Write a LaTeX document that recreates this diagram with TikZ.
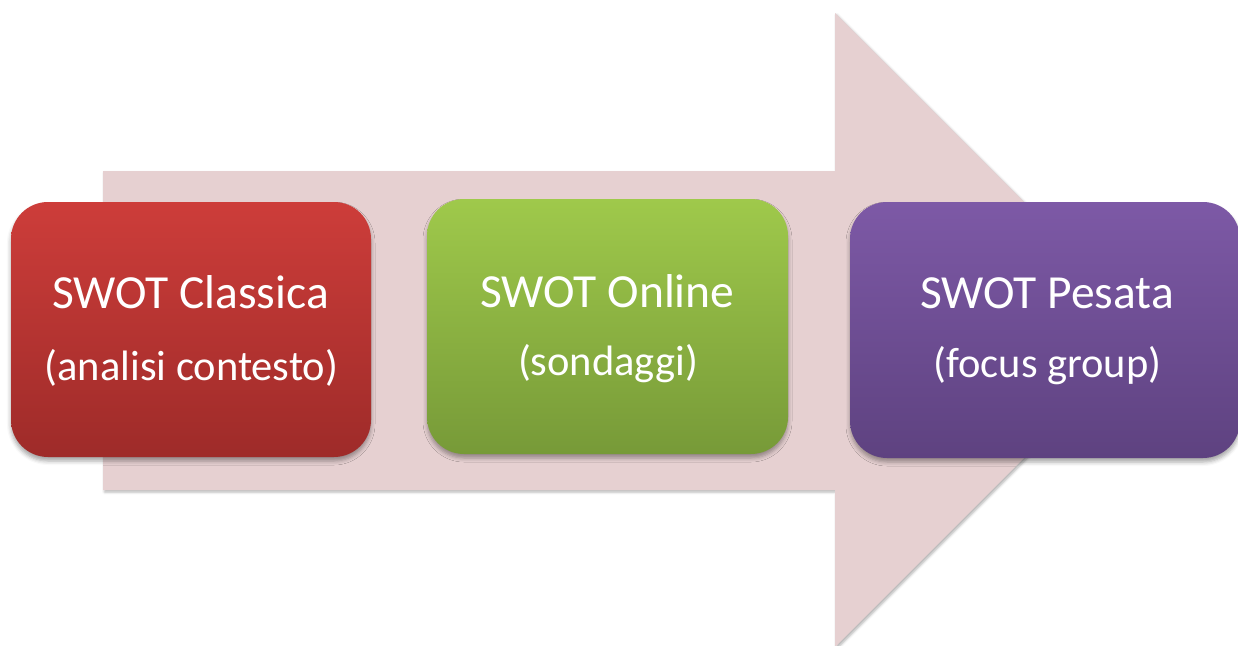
\documentclass[tikz,border=0pt]{standalone}
\usepackage{fontspec}
\setmainfont{Carlito}
\usetikzlibrary{shadows.blur}
\definecolor{arrowfill}{HTML}{E6D0D1}
\definecolor{redtop}{HTML}{CD3D3A}
\definecolor{redbot}{HTML}{9E2B29}
\definecolor{greentop}{HTML}{9FC94B}
\definecolor{greenbot}{HTML}{779A38}
\definecolor{purptop}{HTML}{7D59A6}
\definecolor{purpbot}{HTML}{5E4280}
\tikzset{
  stagebox/.style={rectangle, rounded corners=37pt, inner sep=0pt,
    blur shadow={shadow xshift=0pt, shadow yshift=-4pt, shadow blur radius=4pt, shadow opacity=35}},
  boxtitle/.style={text=white, anchor=base, inner sep=0pt, font=\fontsize{47.5}{56}\selectfont},
  boxsub/.style={text=white, anchor=base, inner sep=0pt, font=\fontsize{42.5}{50}\selectfont}
}
\begin{document}
\begin{tikzpicture}[x=1pt,y=-1pt]
\useasboundingbox (0,0) rectangle (1238,645);
\clip (0,0) rectangle (1238,645);
% big arrow
\fill[arrowfill, blur shadow={shadow xshift=1.5pt, shadow yshift=-2pt, shadow blur radius=2.5pt, shadow opacity=30}]
  (103,171) -- (835,171) -- (835,13) -- (1152,330) -- (835,647) -- (835,490) -- (103,490) -- cycle;
% boxes
\node[stagebox, minimum width=360pt, minimum height=255pt, top color=redtop, bottom color=redbot] (b1) at (191,329.5) {};
\node[stagebox, minimum width=361pt, minimum height=255pt, top color=greentop, bottom color=greenbot] (b2) at (607.5,326.5) {};
\node[stagebox, minimum width=390pt, minimum height=256pt, top color=purptop, bottom color=purpbot] (b3) at (1045,330) {};
% texts
\node[boxtitle] (t1a) at (190.5,308) {SWOT Classica};
\node[boxsub] (t1b) at (191.5,380) {(analisi contesto)};
\node[boxtitle] (t2a) at (607.5,307) {SWOT Online};
\node[boxsub] (t2b) at (608,375) {(sondaggi)};
\node[boxtitle] (t3a) at (1047,308) {SWOT Pesata};
\node[boxsub] (t3b) at (1047.5,377) {(focus group)};
\end{tikzpicture}
\end{document}
